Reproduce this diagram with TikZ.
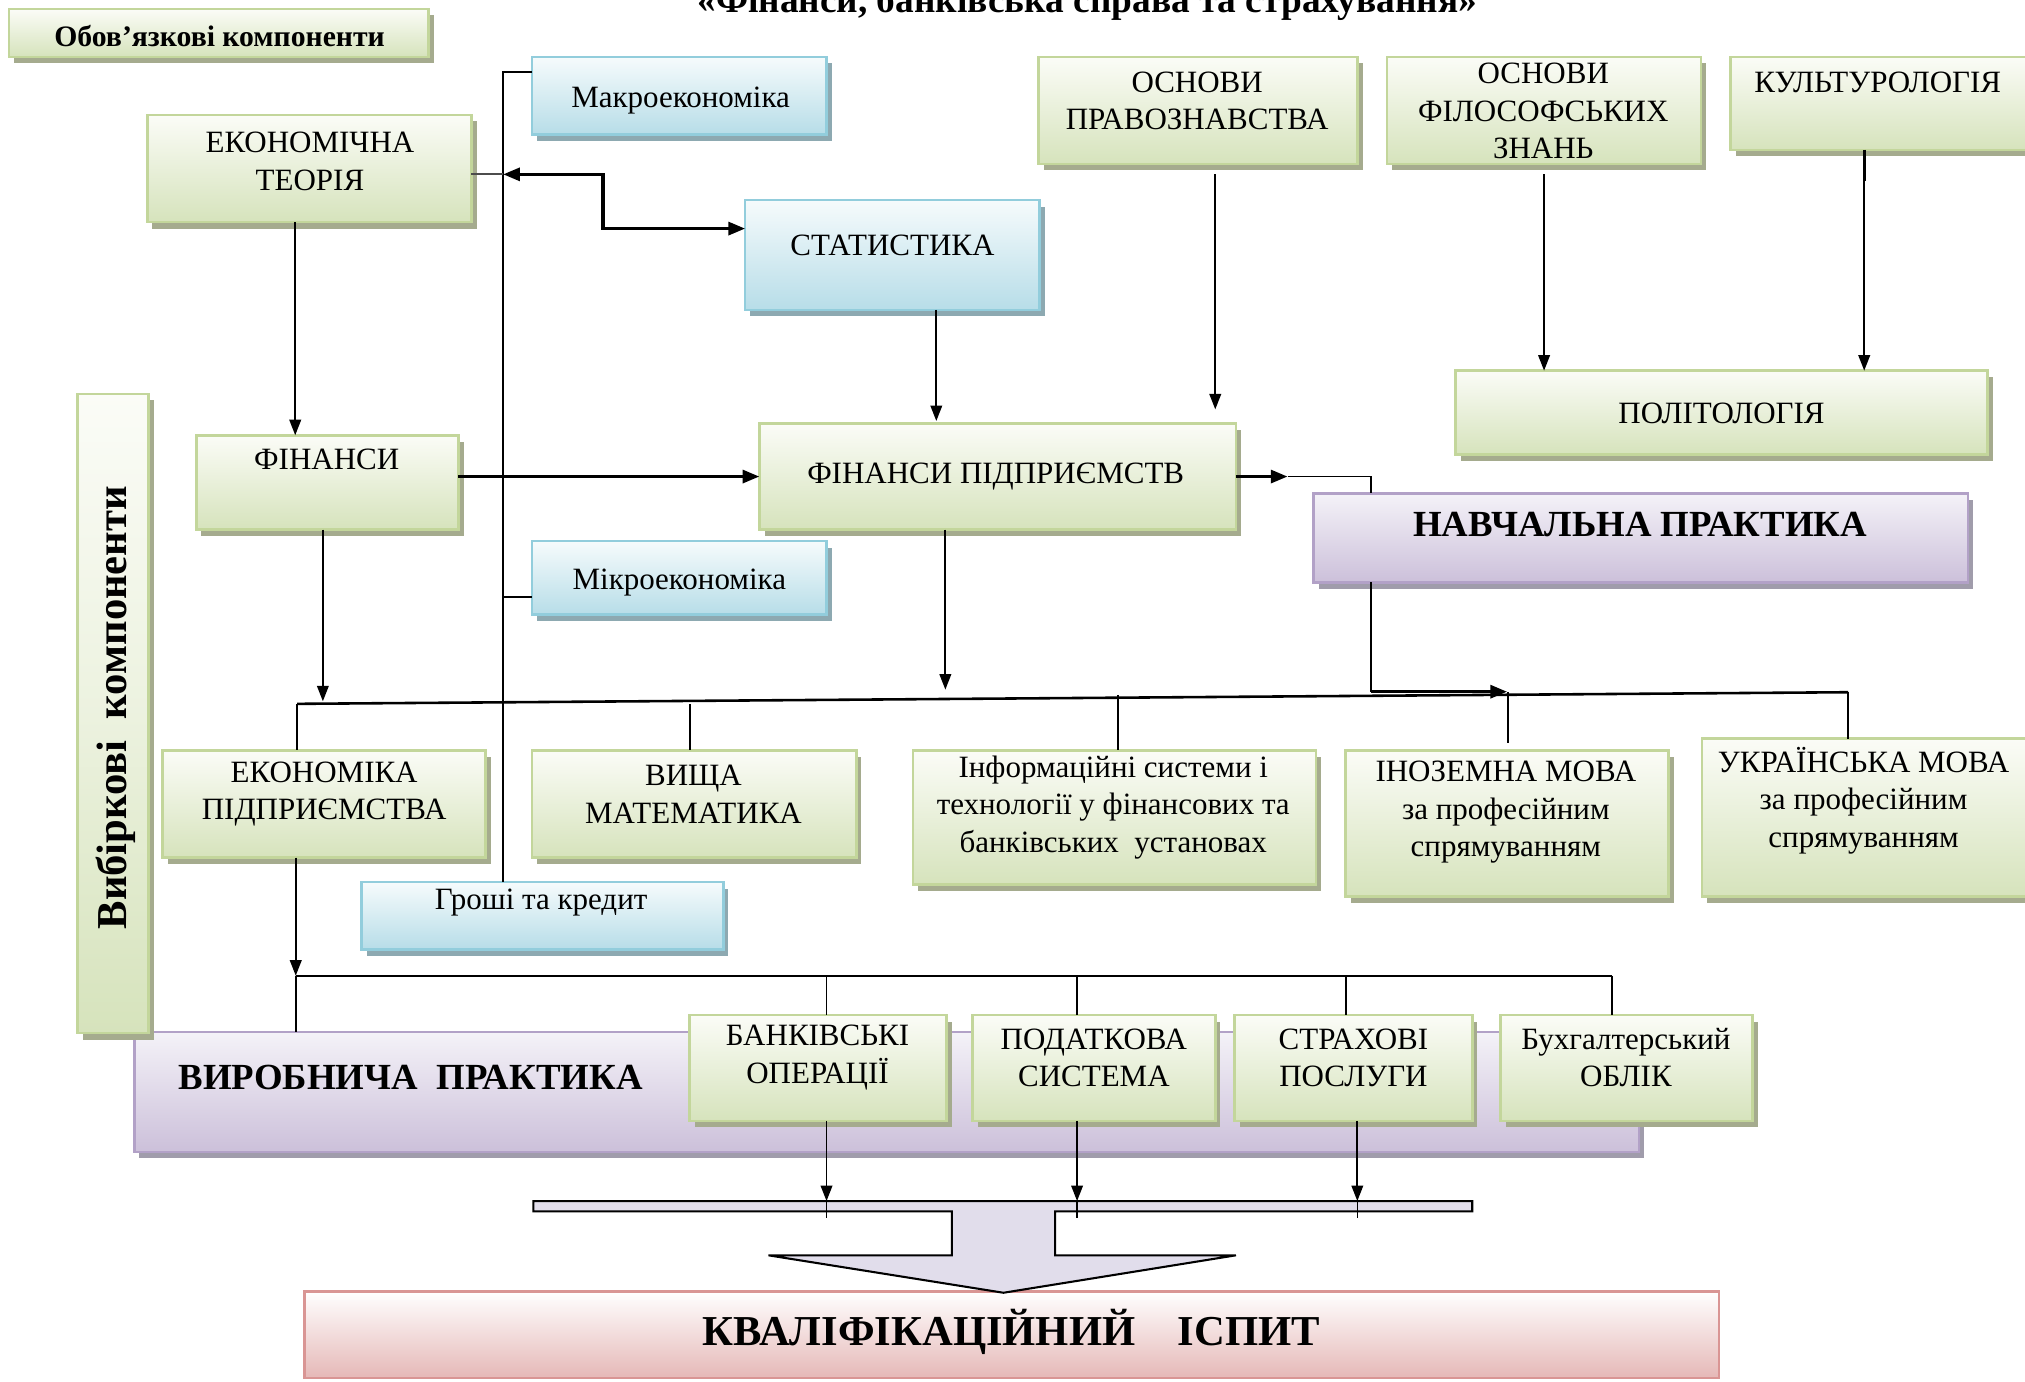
\documentclass[tikz,border=0pt]{standalone}
\usepackage{fontspec}
\setmainfont{Liberation Serif}
\usetikzlibrary{shadows,arrows.meta}
\definecolor{gborder}{HTML}{C3D69B}
\definecolor{gtop}{HTML}{FBFCF7}
\definecolor{gbot}{HTML}{D6E3BC}
\definecolor{gshadow}{HTML}{A5AB8E}
\definecolor{bborder}{HTML}{92CDDC}
\definecolor{btop}{HTML}{F6FBFC}
\definecolor{bbot}{HTML}{B7DDE8}
\definecolor{bshadow}{HTML}{8DA9B1}
\definecolor{lborder}{HTML}{B2A1C7}
\definecolor{ltop}{HTML}{F4F2F8}
\definecolor{lbot}{HTML}{CCC0DA}
\definecolor{lshadow}{HTML}{A09CAB}
\definecolor{rborder}{HTML}{D99594}
\definecolor{rbot}{HTML}{E5B8B7}
\definecolor{arrfill}{HTML}{E1DDEB}
\newcommand\mkbox[6]{\node[#1, minimum width={(#5-#3)*1pt}, minimum height={(#6-#4)*1pt}] (#2) at ({(#3+#5)/2},{(#4+#6)/2}) {};}
\tikzset{
  boxbase/.style={draw, line width=2pt, inner sep=0pt, outer sep=0pt},
  gbox/.style={boxbase, draw=gborder, top color=gtop, bottom color=gbot, drop shadow={shadow xshift=4pt, shadow yshift=-5pt, fill=gshadow, opacity=1}},
  bbox/.style={boxbase, draw=bborder, top color=btop, bottom color=bbot, drop shadow={shadow xshift=4pt, shadow yshift=-5pt, fill=bshadow, opacity=1}},
  lbox/.style={boxbase, draw=lborder, top color=ltop, bottom color=lbot, drop shadow={shadow xshift=4pt, shadow yshift=-5pt, fill=lshadow, opacity=1}},
  rbox/.style={boxbase, draw=rborder, top color=white, bottom color=rbot},
  vbox/.style={boxbase, draw=gborder, top color=gtop, bottom color=gbot, middle color=gtop!60!gbot, drop shadow={shadow xshift=4pt, shadow yshift=-5pt, fill=gshadow, opacity=1}},
  txt/.style={font=\fontsize{24}{29}\selectfont, align=center, inner sep=0pt},
  btxt/.style={font=\fontsize{28.5}{34}\selectfont\bfseries, inner sep=0pt},
  ln/.style={line width=1.4pt},
  tk/.style={line width=2.6pt},
  arr/.style={-{Triangle[length=12pt,width=9pt]}},
  tarr/.style={-{Triangle[length=13pt,width=10pt]}},
}
\begin{document}
\begin{tikzpicture}[x=1pt,y=-1pt]
\useasboundingbox (0,0) rectangle (1568,1070);
\clip (0,0) rectangle (1568,1070);
% title (cut at the top edge, as in the source)
\node[font=\fontsize{28.9}{33}\selectfont\bfseries, anchor=base, inner sep=0pt] (title) at (842,10) {«Фінанси, банківська справа та страхування»};
% boxes
\mkbox{gbox}{obov}{7}{7}{332}{44}
\node[font=\fontsize{23}{27}\selectfont\bfseries, inner sep=0pt] (obovt) at (170,28) {Обов’язкові компоненти};
\mkbox{bbox}{makro}{412}{44}{640}{104}
\node[txt] (makrot) at (527,78) {Макроекономіка};
\mkbox{gbox}{ekteor}{114}{89}{365}{172}
\node[txt] (ekteort) at (240,125) {ЕКОНОМІЧНА\\ТЕОРІЯ};
\mkbox{bbox}{stat}{577}{155}{805}{240}
\node[txt] (statt) at (691,190) {СТАТИСТИКА};
\mkbox{gbox}{pravo}{804}{44}{1051}{127}
\node[txt] (pravot) at (927,78) {ОСНОВИ\\ПРАВОЗНАВСТВА};
\mkbox{gbox}{filos}{1074}{44}{1317}{127}
\node[txt] (filost) at (1195,86) {ОСНОВИ\\ФІЛОСОФСЬКИХ\\ЗНАНЬ};
\mkbox{gbox}{kult}{1340}{44}{1570}{116}
\node[txt] (kultt) at (1454,64) {КУЛЬТУРОЛОГІЯ};
\mkbox{gbox}{polit}{1127}{287}{1539}{352}
\node[txt] (politt) at (1333,320) {ПОЛІТОЛОГІЯ};
\mkbox{lbox}{vyrob}{104}{799}{1269}{892}
\node[btxt] (vyrobt) at (318,834) {ВИРОБНИЧА\ \ ПРАКТИКА};
\mkbox{vbox}{vybir}{60}{305}{115}{800}
\node[font=\fontsize{33}{38}\selectfont\bfseries, rotate=90, inner sep=0pt] (vybirt) at (90,548) {Вибіркові\ \ компоненти};
\mkbox{gbox}{fin}{152}{337}{355}{410}
\node[txt] (fint) at (253,356) {ФІНАНСИ};
\mkbox{gbox}{finp}{588}{328}{957}{410}
\node[txt] (finpt) at (771,369) {ФІНАНСИ ПІДПРИЄМСТВ};
\mkbox{lbox}{navch}{1017}{382}{1524}{451}
\node[btxt] (navcht) at (1270,406) {НАВЧАЛЬНА ПРАКТИКА};
\mkbox{bbox}{mikro}{412}{419}{640}{476}
\node[txt] (mikrot) at (526,451) {Мікроекономіка};
\mkbox{gbox}{ekpid}{126}{581}{376}{664}
\node[txt] (ekpidt) at (251,615) {ЕКОНОМІКА\\ПІДПРИЄМСТВА};
\mkbox{gbox}{vyshma}{412}{581}{663}{664}
\node[txt] (vyshmat) at (537,615) {ВИЩА\\МАТЕМАТИКА};
\mkbox{gbox}{inform}{707}{581}{1019}{685}
\node[txt] (informt) at (862,625) {Інформаційні системи і\\технології у фінансових та\\банківських\ \ установах};
\mkbox{gbox}{inoz}{1042}{581}{1292}{694}
\node[txt] (inozt) at (1166,629) {ІНОЗЕМНА МОВА\\за професійним\\спрямуванням};
\mkbox{gbox}{ukr}{1318}{572}{1570}{694}
\node[txt] (ukrt) at (1443,620) {УКРАЇНСЬКА МОВА\\за професійним\\спрямуванням};
\mkbox{bbox}{groshi}{280}{683}{560}{735}
\node[txt] (groshit) at (419,699) {Гроші та кредит};
\mkbox{gbox}{bank}{534}{786}{733}{868}
\node[txt] (bankt) at (633,819) {БАНКІВСЬКІ\\ОПЕРАЦІЇ};
\mkbox{gbox}{podat}{753}{786}{941}{868}
\node[txt] (podatt) at (847,819) {ПОДАТКОВА\\СИСТЕМА};
\mkbox{gbox}{strakh}{956}{786}{1140}{868}
\node[txt] (strakht) at (1048,819) {СТРАХОВІ\\ПОСЛУГИ};
\mkbox{gbox}{bukh}{1162}{786}{1357}{868}
\node[txt] (bukht) at (1259,819) {Бухгалтерський\\ОБЛІК};
\mkbox{rbox}{kval}{236}{1000}{1331}{1067}
\node[font=\fontsize{33}{38}\selectfont\bfseries, inner sep=0pt] (kvalt) at (783,1031) {КВАЛІФІКАЦІЙНИЙ\ \ \ \ ІСПИТ};
% connectors: left bus
\coordinate (bus) at (389.6,56);
\draw[ln] (bus -| makro.west) -- (bus) -- (bus |- groshi.north);
\coordinate (mk) at (389.6,462);
\draw[ln] (mk) -- (mk -| mikro.west);
\coordinate (e1) at (389.6,135);
\draw[ln, black!70] (e1 -| ekteor.east) -- (e1);
\draw[tk, {Triangle[length=13pt,width=10pt]}-{Triangle[length=13pt,width=10pt]}] (e1) -- (467,135) -- (467,177) -- (stat.west |- 0,177);
% vertical arrows top
\draw[ln,arr] (ekteor.south -| 228.6,0) -- (fin.north -| 228.6,0);
\draw[ln,arr] (stat.south -| 725,0) -- (725,326);
\draw[ln,arr] (941,135) -- (941,317);
\draw[ln,arr] (1195.6,135) -- (polit.north -| 1195.6,0);
\draw[tk] (kult.south -| 1443.5,0) -- (1443.5,140);
\draw[ln,arr] (1443.5,140) -- (polit.north -| 1443.5,0);
% finance row
\draw[tk,tarr] (fin.east |- 0,369) -- (finp.west |- 0,369);
\draw[tk,tarr] (finp.east |- 0,369) -- (997,369);
\draw[ln] (997,369) -- (1061.6,369) -- (navch.north -| 1061.6,0);
\draw[ln] (navch.south -| 1061.6,0) -- (1061.6,535.6);
\draw[tk,tarr] (1061.6,535.6) -- (1167,535.6);
\draw[ln,arr] (fin.south -| 250,0) -- (250,543);
\draw[ln,arr] (finp.south -| 732,0) -- (732,534);
% big distribution line
\coordinate (L1) at (230,545);
\coordinate (L2) at (1431,536);
\draw[line width=2pt] (L1) -- (L2);
\draw[ln] (L1) -- (L1 |- ekpid.north);
\draw[ln] (534,545) -- (vyshma.north -| 534,0);
\draw[ln] (865.4,538) -- (inform.north -| 865.4,0);
\draw[ln] (1167.5,536) -- (1167.5,575);
\draw[ln] (L2) -- (L2 |- ukr.north);
% lower distribution line
\draw[ln,arr] (ekpid.south -| 229,0) -- (229,755.5);
\coordinate (M1) at (229,755.5);
\coordinate (M2) at (1248,755.5);
\draw[ln] (M1) -- (M2);
\draw[ln] (M1) -- (M1 |- vyrob.north);
\draw[ln] (640,755.5) -- (bank.north -| 640,0);
\draw[ln] (834,755.5) -- (podat.north -| 834,0);
\draw[ln] (1042,755.5) -- (strakh.north -| 1042,0);
\draw[ln] (M2) -- (M2 |- bukh.north);
% block arrow to exam
\draw[line width=1.6pt, fill=arrfill] (413,930) -- (1140,930) -- (1140,938) -- (817,938) -- (817,972) -- (957,972) -- (777,1001) -- (595,972) -- (737,972) -- (737,938) -- (413,938) -- cycle;
\coordinate (a1) at (640,930);
\coordinate (a2) at (834,930);
\coordinate (a3) at (1051,930);
\draw[ln,arr] (bank.south -| a1) -- (a1);
\draw[ln,arr] (podat.south -| a2) -- (a2);
\draw[ln,arr] (strakh.south -| a3) -- (a3);
\draw[line width=1pt] (a1) -- ++(0,13);
\draw[line width=1pt] (a2) -- ++(0,13);
\draw[line width=1pt] (a3) -- ++(0,13);
\end{tikzpicture}
\end{document}
